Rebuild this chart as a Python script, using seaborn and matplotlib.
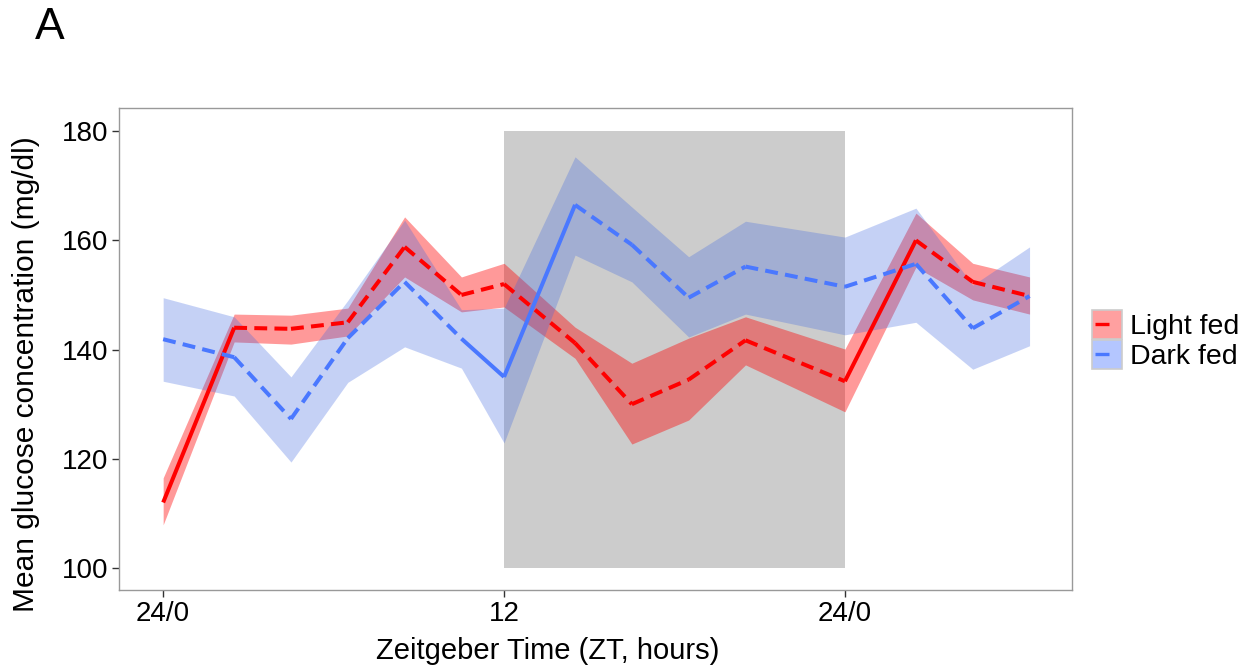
import numpy as np
import matplotlib
matplotlib.use("Agg")
import matplotlib.pyplot as plt
import seaborn as sns
from matplotlib.patches import Rectangle
from matplotlib.lines import Line2D
from matplotlib.legend_handler import HandlerBase

# data
zt = [0, 2.5, 4.5, 6.5, 8.5, 10.5, 12, 14.5, 16.5, 18.5, 20.5, 24, 26.5, 28.5, 30.5]

light_mean = [112, 144, 143.8, 145, 158.8, 150, 152, 141.2, 130, 134.5, 141.7, 134.2, 160, 152.4, 149.8]
light_hi = [116.5, 146.5, 146.3, 147.6, 164.3, 153.3, 155.8, 144.1, 137.5, 142.1, 146, 140.1, 165, 155.8, 153.3]
light_lo = [107.9, 141.4, 141, 142.5, 153.3, 146.9, 147.8, 138.4, 122.7, 127.1, 137.2, 128.6, 155.1, 149.1, 146.5]
# True = solid segment (from point i to i+1), otherwise dashed
light_solid = [True, False, False, False, False, False, False, False, False, False, False, True, False, False]

dark_mean = [141.9, 138.6, 127.3, 142.1, 152.4, 142, 135, 166.5, 159.2, 149.5, 155.2, 151.5, 155.7, 143.9, 149.8]
dark_hi = [149.5, 146, 135, 149, 163.7, 147.3, 147.6, 175.3, 166.1, 157, 163.5, 160.6, 165.9, 151.8, 158.8]
dark_lo = [134.2, 131.5, 119.4, 134, 140.5, 136.6, 122.9, 157.3, 152.4, 142.3, 146.5, 142.7, 145, 136.4, 140.7]
dark_solid = [False, False, False, False, False, True, True, False, False, False, False, False, False, False]

groups = ["Light fed", "Dark fed"]
xtick_pos = [0, 12, 24]
xtick_labels = ["24/0", "12", "24/0"]
yticks = [100, 120, 140, 160, 180]


class Key:
    def __init__(self, fc, lc):
        self.fc = fc
        self.lc = lc


class KeyHandler(HandlerBase):
    # filled square with a short line, like the ggplot legend key
    def create_artists(self, legend, orig, xd, yd, w, h, fs, trans):
        r = Rectangle((-xd, -yd), w, h, facecolor=orig.fc, edgecolor="#cccccc", lw=1.2, transform=trans)
        ln = Line2D([-xd + 0.1 * w, -xd + 0.55 * w], [-yd + h / 2] * 2, color=orig.lc, lw=2.4,
                    solid_capstyle="butt", transform=trans)
        return [r, ln]


sns.set_theme(style="white")
plt.rcParams["font.family"] = ["Liberation Sans", "DejaVu Sans"]
plt.rcParams["text.color"] = "black"
plt.rcParams["axes.labelcolor"] = "black"

fig, ax = plt.subplots(figsize=(12.54, 6.68), dpi=100)
fig.subplots_adjust(left=0.095, right=0.855, bottom=0.117, top=0.838)

# dark phase shading
ax.fill_between([12, 24], 100, 180, color="#cccccc", lw=0, zorder=0)

series = [
    (light_mean, light_hi, light_lo, light_solid, "#ff0000", "#ff0000", 0.4),
    (dark_mean, dark_hi, dark_lo, dark_solid, "#4a78ff", "#4169e1", 0.3),
]

for mean, hi, lo, solid, lc, fc, a in series:
    ax.fill_between(zt, lo, hi, color=fc, alpha=a, lw=0, zorder=1)
    for i in range(len(zt) - 1):
        if solid[i]:
            ax.plot(zt[i:i + 2], mean[i:i + 2], color=lc, lw=2.9, solid_capstyle="butt", zorder=2)
        else:
            ax.plot(zt[i:i + 2], mean[i:i + 2], color=lc, lw=2.9, dashes=(3.2, 1.8),
                    dash_capstyle="butt", zorder=2)

ax.set_xlim(-1.55, 32.0)
ax.set_ylim(96, 184.2)
ax.set_xticks(xtick_pos)
ax.set_xticklabels(xtick_labels)
ax.set_yticks(yticks)
ax.tick_params(axis="both", labelsize=20, length=5, width=1, color="#333333",
               labelcolor="black", bottom=True, left=True, pad=3)
for s in ax.spines.values():
    s.set_color("#999999")
    s.set_linewidth(1)

ax.set_xlabel("Zeitgeber Time (ZT, hours)", fontsize=21)
ax.set_ylabel("Mean glucose concentration (mg/dl)", fontsize=21.5)
ax.xaxis.set_label_coords(0.45, -0.098)
ax.yaxis.set_label_coords(-0.083, 0.447)

keys = [Key("#ffa0a0", "#ff0000"), Key("#b4c6ff", "#4a78ff")]
ax.legend(keys, groups, handler_map={Key: KeyHandler()},
          loc="center left", bbox_to_anchor=(1.021, 0.519), frameon=False,
          fontsize=20.5, handlelength=1.05, handleheight=1.2, handletextpad=0.27,
          labelspacing=0.0, borderaxespad=0, borderpad=0)

fig.text(0.028, 0.942, "A", fontsize=32, ha="left", va="baseline")

fig.savefig("out.png", dpi=100)
